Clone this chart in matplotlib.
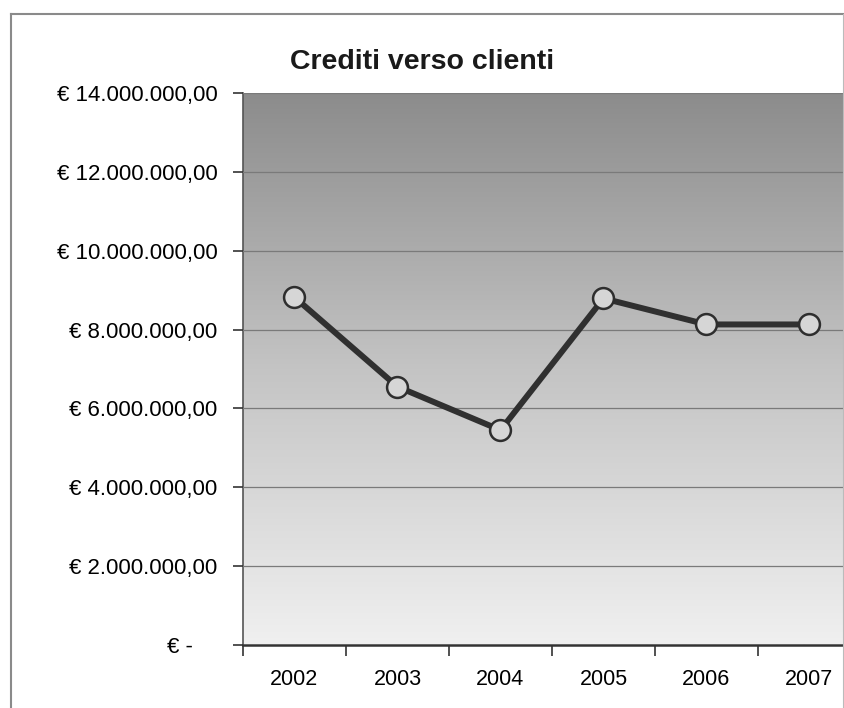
import numpy as np
import matplotlib
matplotlib.use("Agg")
import matplotlib.pyplot as plt
from matplotlib.lines import Line2D
from matplotlib.ticker import FuncFormatter

plt.rcParams["font.family"] = ["Liberation Sans", "DejaVu Sans"]

anni = ["2002", "2003", "2004", "2005", "2006", "2007"]
crediti = [8820000, 6550000, 5450000, 8790000, 8130000, 8130000]
y_ticks = [0, 2000000, 4000000, 6000000, 8000000, 10000000, 12000000, 14000000]

W, H = 845, 708
fig = plt.figure(figsize=(W / 100, H / 100), dpi=100)

# cornice esterna del grafico
bordo = "#8a8a8a"
fig.add_artist(Line2D([11 / W, 11 / W], [0, 1 - 14 / H], color=bordo, lw=1.5))
fig.add_artist(Line2D([11 / W, 843 / W], [1 - 14 / H, 1 - 14 / H], color=bordo, lw=1.5))
fig.add_artist(Line2D([843 / W, 843 / W], [0, 1 - 14 / H], color="#bbbbbb", lw=0.8))

# area del grafico (si estende oltre il bordo destro)
left, right, top, bottom = 243, 861, 93, 645
ax = fig.add_axes([left / W, 1 - bottom / H, (right - left) / W, (bottom - top) / H])

# sfondo sfumato dal grigio scuro al chiaro
grad = np.linspace(0, 1, 256).reshape(-1, 1)
cmap = matplotlib.colors.LinearSegmentedColormap.from_list("sf", ["#f0f0f0", "#c4c4c4", "#8c8c8c"])
ax.imshow(grad, aspect="auto", cmap=cmap, extent=[0, 1, 0, 1], origin="lower",
          transform=ax.transAxes, zorder=0)

x = np.arange(len(anni))
ax.plot(x, crediti, color="#303030", lw=4.3, zorder=3, solid_capstyle="round",
        marker="o", markersize=15, markerfacecolor="#d6d6d6",
        markeredgecolor="#2e2e2e", markeredgewidth=1.8)

ax.set_xlim(-0.5, len(anni) - 0.5)
ax.set_ylim(0, 14000000)
ax.set_yticks(y_ticks)

def euro(v, pos):
    if v == 0:
        return "€ -    "
    s = "{:,.2f}".format(v).replace(",", "X").replace(".", ",").replace("X", ".")
    return "€ " + s

ax.yaxis.set_major_formatter(FuncFormatter(euro))
ax.grid(axis="y", color="#7a7a7a", lw=0.9, zorder=1)
ax.set_axisbelow(False)

ax.set_xticks(np.arange(len(anni) + 1) - 0.5, minor=False)
ax.set_xticklabels([])
ax.set_xticks(x, minor=True)
ax.set_xticklabels(anni, minor=True)
ax.tick_params(axis="x", which="major", length=8, width=1.2, color="#333333", direction="out")
ax.tick_params(axis="x", which="minor", length=0, pad=17, labelsize=15.5)
ax.tick_params(axis="y", length=7, width=1.2, color="#333333", direction="out", pad=11.5, labelsize=16)

for s in ["top", "right"]:
    ax.spines[s].set_visible(False)
ax.spines["left"].set_color("#555555")
ax.spines["left"].set_linewidth(1.2)
ax.spines["bottom"].set_color("#333333")
ax.spines["bottom"].set_linewidth(1.8)
ax.spines["left"].set_zorder(2)

fig.text(422 / W, 1 - 62 / H, "Crediti verso clienti", ha="center", va="center",
         fontsize=20.5, fontweight="bold", color="#1a1a1a")

fig.savefig("out.png", dpi=100)
